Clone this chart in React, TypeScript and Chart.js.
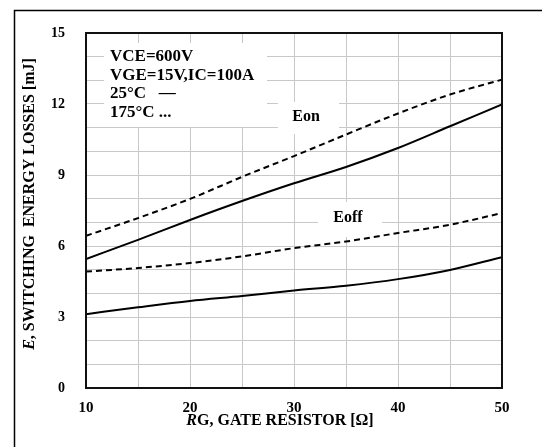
import React, { useEffect, useRef } from "react";
import { Chart, registerables } from "chart.js";

Chart.register(...registerables);

const rg = [10, 15, 20, 25, 30, 35, 40, 45, 50];
const eon175 = [6.43, 7.18, 7.99, 8.92, 9.8, 10.71, 11.6, 12.4, 13.03];
const eon25 = [5.45, 6.26, 7.1, 7.9, 8.65, 9.34, 10.14, 11.06, 11.98];
const eoff175 = [4.92, 5.07, 5.28, 5.56, 5.91, 6.19, 6.55, 6.9, 7.39];
const eoff25 = [3.12, 3.41, 3.68, 3.89, 4.12, 4.32, 4.6, 4.99, 5.53];
const legendLines = ["VCE=600V", "VGE=15V,IC=100A", "25°C   \u2014", "175°C ..."];
const yTickLabels = [0, 3, 6, 9, 12, 15];
const xTickLabels = [10, 20, 30, 40, 50];

const SERIF = "'Liberation Serif', 'Times New Roman', serif";

const toPts = (ys: number[]) => ys.map((y, i) => ({ x: rg[i], y }));

const decor = {
  id: "decor",
  beforeDatasetsDraw(chart: any) {
    const { ctx } = chart;
    ctx.save();
    ctx.fillStyle = "#ffffff";
    ctx.fillRect(104, 43, 163, 84);
    ctx.fillRect(278, 102, 61, 32);
    ctx.fillRect(318, 202, 64, 35);
    ctx.fillStyle = "#000";
    ctx.font = `bold 17px ${SERIF}`;
    ctx.textBaseline = "middle";
    ctx.textAlign = "left";
    const ys = [57, 75.5, 94, 112.5];
    legendLines.forEach((t, i) => ctx.fillText(t, 110, ys[i]));
    ctx.textAlign = "center";
    ctx.font = `bold 16px ${SERIF}`;
    ctx.fillText("Eon", 306, 117);
    ctx.fillText("Eoff", 348, 218);
    ctx.restore();
  },
  afterDraw(chart: any) {
    const { ctx, chartArea: a } = chart;
    ctx.save();
    ctx.strokeStyle = "#111";
    ctx.lineWidth = 2;
    ctx.strokeRect(a.left, a.top, a.right - a.left, a.bottom - a.top);
    ctx.strokeStyle = "#000";
    ctx.lineWidth = 1.5;
    ctx.strokeRect(14.5, 10.5, 600, 600);
    ctx.fillStyle = "#000";
    ctx.textBaseline = "middle";
    const drawMixed = (parts: [string, string][], cx: number, cy: number, rot: number) => {
      ctx.save();
      ctx.translate(cx, cy);
      ctx.rotate(rot);
      let total = 0;
      parts.forEach(([t, f]) => {
        ctx.font = f;
        total += ctx.measureText(t).width;
      });
      let x = -total / 2;
      ctx.textAlign = "left";
      parts.forEach(([t, f]) => {
        ctx.font = f;
        ctx.fillText(t, x, 0);
        x += ctx.measureText(t).width;
      });
      ctx.restore();
    };
    const it = `italic bold 16px ${SERIF}`;
    const bd = `bold 16px ${SERIF}`;
    drawMixed([["R", it], ["G, GATE RESISTOR [\u03A9]", bd]], 280, 421, 0);
    drawMixed([["E", it], [", SWITCHING  ENERGY LOSSES [mJ]", bd]], 30, 204, -Math.PI / 2);
    ctx.restore();
  },
};

export default function App() {
  const ref = useRef<HTMLCanvasElement | null>(null);
  useEffect(() => {
    document.body.style.margin = "0";
    const common = {
      pointRadius: 0,
      borderColor: "#000",
      borderWidth: 2,
      cubicInterpolationMode: "monotone",
      fill: false,
    };
    const chart = new Chart(ref.current!, {
      type: "line",
      data: {
        datasets: [
          { ...common, label: "Eon 175", data: toPts(eon175), borderDash: [6, 4] },
          { ...common, label: "Eon 25", data: toPts(eon25) },
          { ...common, label: "Eoff 175", data: toPts(eoff175), borderDash: [6, 4] },
          { ...common, label: "Eoff 25", data: toPts(eoff25) },
        ],
      } as any,
      options: {
        animation: false,
        responsive: false,
        events: [],
        layout: { padding: { top: 33, right: 40, left: 0, bottom: 0 } },
        plugins: { legend: { display: false }, tooltip: { enabled: false } },
        scales: {
          x: {
            type: "linear",
            min: 10,
            max: 50,
            afterFit: (s: any) => { s.height = 59; },
            ticks: {
              stepSize: 5,
              autoSkip: false,
              maxRotation: 0,
              padding: 11,
              color: "#000",
              font: { family: SERIF, size: 15, weight: "bold" },
              callback: (v: any) => (xTickLabels.includes(v) ? String(v) : ""),
            },
            grid: { color: "#c8c8c8", lineWidth: 1, drawTicks: false },
            border: { display: false },
          },
          y: {
            min: 0,
            max: 15,
            afterFit: (s: any) => { s.width = 86; },
            ticks: {
              stepSize: 1,
              autoSkip: false,
              padding: 21,
              color: "#000",
              font: { family: SERIF, size: 14, weight: "bold" },
              callback: (v: any) => (yTickLabels.includes(v) ? String(v) : ""),
            },
            grid: { color: "#c8c8c8", lineWidth: 1, drawTicks: false },
            border: { display: false },
          },
        },
      },
      plugins: [decor],
    });
    return () => chart.destroy();
  }, []);
  return (
    <div style={{ position: "absolute", left: 0, top: 0, width: 542, height: 447, background: "#fff" }}>
      <canvas ref={ref} width={542} height={447} style={{ width: 542, height: 447 }} />
    </div>
  );
}
